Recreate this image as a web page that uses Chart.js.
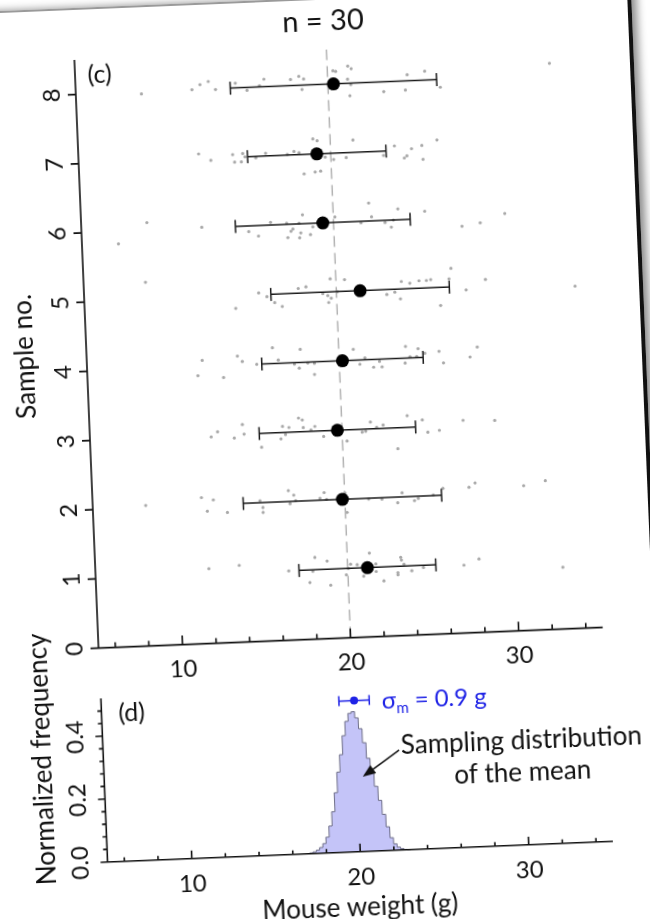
<!DOCTYPE html>
<html>
<head>
<meta charset="utf-8">
<script src="https://cdn.jsdelivr.net/npm/chart.js@4/dist/chart.umd.min.js"></script>
<style>
html,body{margin:0;padding:0;background:#fff;overflow:hidden;width:650px;height:919px;}
#wrap{position:absolute;left:0;top:0;width:650px;height:919px;transform-origin:325px 460px;transform:rotate(-2.35deg);}
#page{position:absolute;left:-120px;top:-2px;width:766px;height:1100px;background:#fff;border-top:2px solid #9a9a9a;border-right:4px solid #111;box-shadow:5px 0 8px rgba(0,0,0,0.45);}
#c1{position:absolute;left:0;top:0;}
#c2{position:absolute;left:0;top:590px;}
</style>
</head>
<body>
<div id="wrap">
  <div id="page"></div>
  <canvas id="c1" width="650" height="690"></canvas>
  <canvas id="c2" width="650" height="340"></canvas>
</div>
<script>
// ---------------- data ----------------
const sampleNo    = [1, 2, 3, 4, 5, 6, 7, 8];
const sampleMeans = [21.17, 19.85, 19.72, 20.19, 21.41, 19.36, 19.17, 20.33];
const sampleSDs   = [4.07, 5.90, 4.65, 4.80, 5.31, 5.20, 4.12, 6.14];
const popMean = 20;

// individual mouse weights (g) and their jittered vertical positions
const w1 = [11.75, 13.56, 16.49, 17.72, 18.07, 18.79, 18.95, 17.92, 19.90, 20.18, 20.57, 20.93, 21.32, 21.68, 21.68, 22.12, 22.97, 22.97, 23.17, 23.21, 23.35, 23.80, 24.50, 26.91, 27.82, 32.78, 20.04];
const j1 = [1.08, 1.11, 1.00, 0.82, 1.18, 1.12, 0.77, 0.98, 0.91, 1.06, 1.05, 0.88, 1.21, 1.05, 0.94, 0.80, 0.91, 0.88, 1.13, 1.09, 1.03, 0.93, 0.97, 0.98, 1.06, 0.89, 1.00];
const w2 = [8.15, 11.48, 12.18, 11.80, 12.99, 14.95, 15.11, 15.11, 16.66, 16.97, 16.73, 17.07, 18.52, 18.78, 18.91, 20.02, 20.10, 21.41, 22.20, 23.13, 23.41, 24.13, 24.36, 25.26, 25.85, 27.40, 27.77, 30.65, 31.95];
const j2 = [2.03, 2.11, 2.07, 1.91, 1.88, 2.03, 1.93, 1.86, 2.16, 2.09, 1.97, 2.01, 2.03, 2.11, 2.01, 2.09, 1.81, 1.99, 1.98, 1.92, 2.06, 1.94, 1.97, 2.01, 2.10, 2.10, 2.16, 2.09, 2.15];
const w3 = [12.21, 12.60, 13.58, 14.09, 14.17, 15.18, 16.35, 16.47, 16.63, 16.85, 17.44, 17.66, 17.70, 18.15, 18.39, 18.89, 20.27, 21.19, 21.40, 21.70, 22.06, 22.45, 23.27, 23.90, 24.79, 25.09, 25.78, 27.21, 29.09];
const j3 = [2.98, 3.05, 2.95, 3.14, 3.00, 2.80, 2.91, 3.09, 2.97, 3.07, 3.20, 3.17, 3.06, 3.02, 3.07, 2.92, 2.84, 2.96, 2.97, 3.10, 3.02, 3.05, 2.70, 3.17, 3.10, 2.92, 2.94, 3.07, 3.05];
const w4 = [11.57, 11.86, 13.09, 13.96, 14.24, 15.09, 16.06, 16.38, 17.33, 17.61, 17.71, 18.13, 18.52, 18.50, 20.86, 21.22, 21.53, 22.03, 22.39, 22.53, 23.91, 23.97, 24.21, 24.61, 24.71, 25.10, 25.95, 26.19, 27.78, 28.23];
const j4 = [3.87, 4.09, 3.83, 4.13, 4.05, 4.00, 4.23, 4.05, 3.98, 3.92, 4.19, 3.99, 3.98, 3.82, 4.16, 3.94, 4.03, 3.89, 3.97, 3.89, 3.93, 4.17, 4.02, 4.02, 4.13, 4.06, 4.08, 3.91, 3.98, 4.12];
const w5 = [8.68, 13.98, 15.38, 15.86, 16.31, 16.75, 17.74, 18.20, 19.19, 19.48, 19.68, 19.52, 19.66, 20.51, 20.06, 22.99, 23.47, 23.79, 23.88, 24.38, 24.93, 25.37, 25.63, 26.16, 26.72, 26.86, 27.71, 28.88, 34.19];
const j5 = [5.25, 4.82, 5.03, 4.97, 4.88, 4.82, 5.07, 5.09, 4.98, 4.95, 4.91, 4.85, 5.19, 5.17, 5.00, 4.93, 4.96, 4.86, 5.11, 5.08, 5.11, 5.11, 5.12, 4.74, 5.12, 5.27, 4.95, 5.09, 4.94];
const w6 = [7.17, 8.91, 12.16, 14.94, 15.51, 16.26, 17.21, 17.25, 17.45, 17.57, 17.95, 18.03, 18.17, 18.60, 17.95, 18.76, 20.09, 21.63, 22.13, 22.27, 23.06, 23.42, 23.56, 23.85, 25.44, 27.62, 28.71, 30.19];
const j6 = [5.82, 6.11, 6.01, 5.92, 5.85, 6.04, 6.02, 5.81, 5.90, 5.93, 5.80, 5.87, 6.13, 5.84, 6.01, 5.95, 6.08, 5.98, 6.26, 6.06, 5.97, 5.90, 6.00, 6.16, 6.11, 5.87, 5.91, 6.03];
const w7 = [12.15, 12.86, 14.17, 14.77, 14.27, 14.67, 14.90, 15.54, 16.13, 17.42, 17.82, 18.12, 18.97, 19.22, 19.36, 19.03, 18.37, 19.66, 20.16, 20.91, 21.35, 23.13, 23.80, 24.36, 24.52, 24.81, 25.43, 25.47, 26.34];
const j7 = [7.07, 6.97, 7.04, 7.05, 6.93, 6.93, 7.00, 6.98, 7.04, 7.01, 7.05, 7.03, 7.22, 7.19, 6.75, 6.74, 6.72, 6.95, 6.91, 6.93, 7.18, 6.94, 7.07, 6.89, 6.92, 7.02, 7.06, 6.86, 7.13];
const w8 = [8.90, 11.91, 12.40, 12.90, 13.31, 14.50, 15.18, 15.93, 16.21, 17.79, 18.29, 18.57, 18.45, 20.33, 20.49, 21.22, 21.42, 21.18, 21.36, 21.28, 23.30, 24.59, 24.73, 25.78, 26.67, 33.21];
const j8 = [7.97, 8.00, 8.07, 8.11, 7.99, 8.07, 7.96, 8.02, 8.11, 8.09, 8.13, 8.09, 7.94, 8.19, 8.18, 8.25, 8.21, 8.06, 7.98, 7.82, 7.86, 7.87, 8.09, 8.13, 7.89, 8.17];

// sampling distribution of the mean (histogram: bin start, normalized frequency)
const histBinStart = [17.0, 17.2, 17.4, 17.6, 17.8, 18.0, 18.2, 18.4, 18.6, 18.8, 19.0, 19.2, 19.4, 19.6, 19.8, 20.0, 20.2, 20.4, 20.6, 20.8, 21.0, 21.2, 21.4, 21.6, 21.8, 22.0, 22.2, 22.4, 22.6, 22.8, 23.0];
const histFreq     = [0.000, 0.002, 0.005, 0.010, 0.018, 0.030, 0.050, 0.085, 0.130, 0.190, 0.255, 0.310, 0.370, 0.415, 0.440, 0.445, 0.425, 0.390, 0.345, 0.295, 0.250, 0.205, 0.160, 0.115, 0.075, 0.040, 0.020, 0.009, 0.004, 0.001, 0.000];
const sigmaMean = 0.9;
const sigmaMarkerY = 0.48;

// axes
const X_MIN = 5, X_MAX = 35, TOP_Y_MAX = 8.5, BOT_Y_MAX = 0.52;
const xTickValues = [6, 8, 10, 12, 14, 16, 18, 20, 22, 24, 26, 28, 30, 32, 34];
const xMajorTicks = [10, 20, 30];
const xTickLabels = ['10', '20', '30'];
const topYTicks = [0, 1, 2, 3, 4, 5, 6, 7, 8];
const topYLabels = ['0', '1', '2', '3', '4', '5', '6', '7', '8'];
const botYMajor = [0, 0.2, 0.4];
const botYLabels = ['0.0', '0.2', '0.4'];
const botYMinor = [0.04, 0.08, 0.12, 0.16, 0.24, 0.28, 0.32, 0.36, 0.44, 0.48];

// ---------------- drawing ----------------
const INK = '#111';
const FONT = 'Lato, "Open Sans", sans-serif';
const BLUE = '#1e22e6';

function drawAxes(chart, o) {
  const ctx = chart.ctx, xs = chart.scales.x, ys = chart.scales.y;
  const left = xs.getPixelForValue(X_MIN), right = xs.getPixelForValue(X_MAX);
  const bottom = ys.getPixelForValue(0), top = ys.getPixelForValue(o.yMax);
  ctx.save();
  ctx.strokeStyle = INK; ctx.lineWidth = 1.6;
  ctx.beginPath();
  ctx.moveTo(left, top); ctx.lineTo(left, bottom); ctx.lineTo(right, bottom);
  xTickValues.forEach(v => {
    const p = xs.getPixelForValue(v);
    const L = xMajorTicks.includes(v) ? o.xMajorLen : o.xMinorLen;
    ctx.moveTo(p, bottom); ctx.lineTo(p, bottom - L);
  });
  o.yMajor.forEach(v => { const p = ys.getPixelForValue(v); ctx.moveTo(left, p); ctx.lineTo(left - o.yMajorLen, p); });
  (o.yMinor || []).forEach(v => { const p = ys.getPixelForValue(v); ctx.moveTo(left, p); ctx.lineTo(left - o.yMinorLen, p); });
  ctx.stroke();
  ctx.fillStyle = INK; ctx.font = o.tickFont; ctx.textAlign = 'center'; ctx.textBaseline = 'middle';
  xMajorTicks.forEach((v, i) => ctx.fillText(xTickLabels[i], xs.getPixelForValue(v), bottom + o.xLabelGap));
  o.yMajor.forEach((v, i) => {
    ctx.save(); ctx.translate(left - o.yLabelGap, ys.getPixelForValue(v)); ctx.rotate(-Math.PI / 2);
    ctx.fillText(o.yLabels[i], 0, 0); ctx.restore();
  });
  ctx.restore();
}

const topDecor = {
  id: 'topDecor',
  afterDraw(chart) {
    drawAxes(chart, { yMax: TOP_Y_MAX, xMajorLen: 9, xMinorLen: 5, yMajor: topYTicks, yLabels: topYLabels,
      yMajorLen: 8, tickFont: '24px ' + FONT, xLabelGap: 25, yLabelGap: 24 });
    const ctx = chart.ctx, a = chart.chartArea, xs = chart.scales.x, ys = chart.scales.y;
    ctx.save();
    ctx.fillStyle = INK; ctx.textBaseline = 'middle'; ctx.textAlign = 'center';
    ctx.font = '29px ' + FONT;
    ctx.fillText('n = 30', 341, 22);
    ctx.save(); ctx.translate(30, (a.top + a.bottom) / 2); ctx.rotate(-Math.PI / 2);
    ctx.font = '26px ' + FONT; ctx.fillText('Sample no.', 0, 0); ctx.restore();
    ctx.textAlign = 'left'; ctx.font = '25px ' + FONT;
    ctx.fillText('(c)', xs.getPixelForValue(5.75), ys.getPixelForValue(8.27));
    ctx.restore();
  }
};

const botDecor = {
  id: 'botDecor',
  afterDraw(chart) {
    drawAxes(chart, { yMax: BOT_Y_MAX, xMajorLen: 8, xMinorLen: 4, yMajor: botYMajor, yLabels: botYLabels,
      yMinor: botYMinor, yMajorLen: 7, yMinorLen: 4, tickFont: '24px ' + FONT, xLabelGap: 26, yLabelGap: 27 });
    const ctx = chart.ctx, xs = chart.scales.x, ys = chart.scales.y;
    ctx.save();
    ctx.fillStyle = INK; ctx.textBaseline = 'middle';
    ctx.textAlign = 'left'; ctx.font = '25px ' + FONT;
    ctx.fillText('(d)', xs.getPixelForValue(6.0), ys.getPixelForValue(0.47));
    // sigma_m label
    ctx.fillStyle = BLUE;
    let tx = xs.getPixelForValue(21.64); const ty = ys.getPixelForValue(0.476);
    ctx.font = '24px ' + FONT; ctx.fillText('σ', tx, ty); tx += ctx.measureText('σ').width;
    ctx.font = '15px ' + FONT; ctx.fillText('m', tx, ty + 8); tx += ctx.measureText('m').width;
    ctx.font = '24px ' + FONT; ctx.fillText(' = 0.9 g', tx, ty);
    // annotation
    ctx.fillStyle = INK; ctx.textAlign = 'center'; ctx.font = '26px ' + FONT;
    ctx.fillText('Sampling distribution', xs.getPixelForValue(29.82), ys.getPixelForValue(0.33));
    ctx.fillText('of the mean', xs.getPixelForValue(29.82), ys.getPixelForValue(0.228));
    // arrow
    const x1 = xs.getPixelForValue(22.55), y1 = ys.getPixelForValue(0.317);
    const x2 = xs.getPixelForValue(20.33), y2 = ys.getPixelForValue(0.237);
    const ang = Math.atan2(y2 - y1, x2 - x1);
    ctx.strokeStyle = INK; ctx.lineWidth = 1.6;
    ctx.beginPath(); ctx.moveTo(x1, y1); ctx.lineTo(x2 - 9 * Math.cos(ang), y2 - 9 * Math.sin(ang)); ctx.stroke();
    ctx.beginPath(); ctx.moveTo(x2, y2);
    ctx.lineTo(x2 - 13 * Math.cos(ang) + 5 * Math.sin(ang), y2 - 13 * Math.sin(ang) - 5 * Math.cos(ang));
    ctx.lineTo(x2 - 13 * Math.cos(ang) - 5 * Math.sin(ang), y2 - 13 * Math.sin(ang) + 5 * Math.cos(ang));
    ctx.closePath(); ctx.fill();
    // axis titles
    ctx.font = '26px ' + FONT; ctx.textAlign = 'center';
    ctx.fillText('Mouse weight (g)', 342, 319);
    ctx.save(); ctx.translate(31, 157.5); ctx.rotate(-Math.PI / 2);
    ctx.fillText('Normalized frequency', 0, 0); ctx.restore();
    ctx.restore();
  }
};

const weights = [w1, w2, w3, w4, w5, w6, w7, w8];
const jitter  = [j1, j2, j3, j4, j5, j6, j7, j8];

const baseOpts = (padding, yMax) => ({
  responsive: false, animation: false, events: [],
  layout: { padding },
  plugins: { legend: { display: false }, tooltip: { enabled: false }, title: { display: false } },
  scales: {
    x: { type: 'linear', min: X_MIN, max: X_MAX, display: false },
    y: { type: 'linear', min: 0, max: yMax, display: false }
  }
});

function build() {
  // ----- top chart (c) -----
  const topSets = [];
  topSets.push({
    data: sampleNo.map((k, i) => ({ x: sampleMeans[i], y: k })),
    showLine: false, pointRadius: 6.5, pointBackgroundColor: '#000', pointBorderWidth: 0, order: 0, clip: false
  });
  sampleNo.forEach((k, i) => topSets.push({
    data: [{ x: sampleMeans[i] - sampleSDs[i], y: k }, { x: sampleMeans[i] + sampleSDs[i], y: k }],
    showLine: true, borderColor: '#1a1a1a', borderWidth: 1.5,
    pointStyle: 'line', pointRotation: 90, pointRadius: 6.5, pointBorderColor: '#1a1a1a', pointBorderWidth: 1.5,
    order: 1, clip: false
  }));
  weights.forEach((ws, i) => topSets.push({
    data: ws.map((w, n) => ({ x: w, y: jitter[i][n] })),
    showLine: false, pointRadius: 1.6, pointBackgroundColor: '#a9a9a9', pointBorderWidth: 0, order: 2, clip: false
  }));
  topSets.push({
    data: [{ x: popMean, y: 0 }, { x: popMean, y: TOP_Y_MAX }],
    showLine: true, borderColor: '#b3b3b3', borderWidth: 1.5, borderDash: [11, 6], pointRadius: 0, order: 3, clip: false
  });
  new Chart(document.getElementById('c1'), {
    type: 'line',
    data: { datasets: topSets },
    options: baseOpts({ left: 91, top: 50, right: 650 - 595.6, bottom: 690 - 638.6 }, TOP_Y_MAX),
    plugins: [topDecor]
  });

  // ----- bottom chart (d) -----
  const botSets = [
    { data: [{ x: popMean, y: sigmaMarkerY }], showLine: false, pointRadius: 4, pointBackgroundColor: BLUE, pointBorderWidth: 0, order: 0, clip: false },
    { data: [{ x: popMean - sigmaMean, y: sigmaMarkerY }, { x: popMean + sigmaMean, y: sigmaMarkerY }],
      showLine: true, borderColor: BLUE, borderWidth: 1.5, pointStyle: 'line', pointRotation: 90, pointRadius: 5,
      pointBorderColor: BLUE, pointBorderWidth: 1.5, order: 1, clip: false },
    { data: histBinStart.map((x, i) => ({ x, y: histFreq[i] })),
      showLine: true, stepped: 'after', fill: 'origin', backgroundColor: 'rgb(196,196,248)',
      borderColor: '#6e6e88', borderWidth: 1, pointRadius: 0, order: 2, clip: false }
  ];
  new Chart(document.getElementById('c2'), {
    type: 'line',
    data: { datasets: botSets },
    options: baseOpts({ left: 91.3, top: 99, right: 650 - 597, bottom: 340 - 262.7 }, BOT_Y_MAX),
    plugins: [botDecor]
  });
}

if (document.fonts && document.fonts.load) {
  Promise.all([document.fonts.load('22px Lato'), document.fonts.load('28px Lato')]).then(build, build);
} else { build(); }
</script>
</body>
</html>
